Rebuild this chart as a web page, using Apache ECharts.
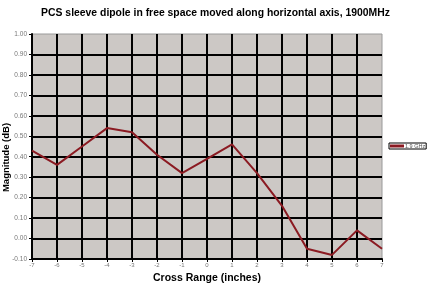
<!DOCTYPE html>
<html><head><meta charset="utf-8">
<script src="https://cdn.jsdelivr.net/npm/echarts@6/dist/echarts.min.js"></script>
<style>html,body{margin:0;padding:0;background:#fff}#c{width:431px;height:287px}</style>
</head><body><div id="c"></div>
<script>
var crossRange = [-7,-6,-5,-4,-3,-2,-1,0,1,2,3,4,5,6,7];
var magnitude = [0.43,0.36,0.45,0.54,0.52,0.41,0.32,0.39,0.46,0.32,0.16,-0.05,-0.08,0.04,-0.05];
var seriesName = '1.9 GHz';
var titleText = 'PCS sleeve dipole in free space moved along horizontal axis, 1900MHz';

var chart = echarts.init(document.getElementById('c'), null, {renderer:'canvas'});
chart.setOption({
  animation:false,
  title:{text:titleText,left:'center',top:3,textStyle:{fontFamily:'Liberation Sans, Arial',fontSize:10.4,fontWeight:'bold',color:'#000'}},
  grid:{left:32,right:49,top:34,bottom:28,outerBoundsMode:'none',containLabel:false,show:true,backgroundColor:'#ccc8c5',borderColor:'#9a9a9a',borderWidth:1},
  legend:{data:[{name:seriesName,icon:'rect'}],left:389,top:143,orient:'vertical',borderColor:'#000',borderWidth:1,padding:[0,1],itemWidth:14,itemHeight:3,itemGap:2,
    textStyle:{fontSize:5.5,fontFamily:'Liberation Sans, Arial',color:'#555',padding:[0,0,0,-4]}},
  xAxis:{type:'value',min:-7,max:7,interval:1,
    name:'Cross Range (inches)',nameLocation:'middle',nameGap:14,nameMoveOverlap:false,
    nameTextStyle:{fontFamily:'Liberation Sans, Arial',fontSize:10.5,fontWeight:'bold',color:'#000'},
    axisLine:{show:true,onZero:false,lineStyle:{color:'#000',width:2}},
    axisTick:{show:true,length:3,lineStyle:{color:'#000',width:1}},
    axisLabel:{fontSize:6,color:'#777',margin:3,fontFamily:'Liberation Sans, Arial'},
    splitLine:{show:true,showMaxLine:false,lineStyle:{color:'#000',width:2}}},
  yAxis:{type:'value',min:-0.1,max:1.0,interval:0.1,
    name:'Magnitude (dB)',nameLocation:'middle',nameGap:21,nameRotate:90,nameMoveOverlap:false,
    nameTextStyle:{fontFamily:'Liberation Sans, Arial',fontSize:9.5,fontWeight:'bold',color:'#000',padding:[0,22,0,0]},
    axisLine:{show:true,onZero:false,lineStyle:{color:'#000',width:2}},
    axisTick:{show:true,length:3,lineStyle:{color:'#000',width:1}},
    axisLabel:{fontSize:6.5,color:'#777',margin:5,fontFamily:'Liberation Sans, Arial',formatter:function(v){return v.toFixed(2);}},
    splitLine:{show:true,showMaxLine:false,lineStyle:{color:'#000',width:2}}},
  series:[{name:seriesName,type:'line',data:crossRange.map(function(x,i){return [x,magnitude[i]];}),
    showSymbol:false,symbol:'none',lineStyle:{color:'#8b1a22',width:2},itemStyle:{color:'#8b1a22'}}]
});
</script></body></html>
